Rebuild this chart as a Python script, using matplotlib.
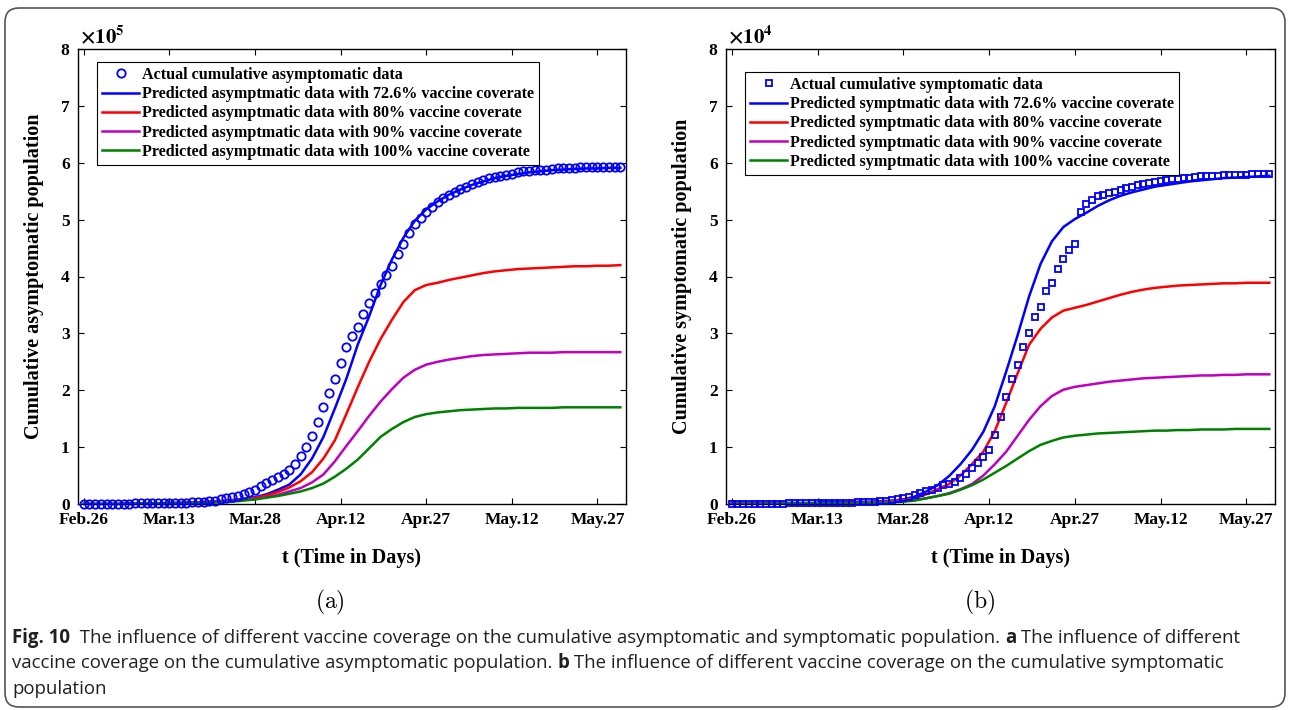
import numpy as np
import matplotlib.pyplot as plt
from matplotlib.patches import FancyBboxPatch
from matplotlib.transforms import IdentityTransform
from matplotlib import font_manager

plt.rcParams['font.family'] = ['Liberation Serif', 'DejaVu Serif']
plt.rcParams['font.weight'] = 'bold'
plt.rcParams['axes.labelweight'] = 'bold'
plt.rcParams['mathtext.fontset'] = 'stix'

# x axis: day 1 = Feb.26
tick_days = [1, 16, 31, 46, 61, 76, 91]
tick_labels = ['Feb.26', 'Mar.13', 'Mar.28', 'Apr.12', 'Apr.27', 'May.12', 'May.27']
data_days = np.arange(1, 96)
line_days = np.arange(1, 96, 2)

# (a) cumulative asymptomatic, units of 1e5
asym_actual = [0.00, 0.00, 0.00, 0.00, 0.00, 0.00, 0.00, 0.00, 0.00, 0.01,
               0.01, 0.01, 0.01, 0.01, 0.01, 0.01, 0.02, 0.02, 0.02, 0.03,
               0.03, 0.04, 0.05, 0.06, 0.08, 0.10, 0.12, 0.14, 0.17, 0.21,
               0.25, 0.31, 0.37, 0.43, 0.48, 0.53, 0.60, 0.70, 0.84, 1.00,
               1.20, 1.45, 1.70, 1.95, 2.20, 2.48, 2.76, 2.95, 3.12, 3.34,
               3.53, 3.71, 3.87, 4.02, 4.19, 4.39, 4.58, 4.76, 4.92, 5.03,
               5.14, 5.22, 5.31, 5.38, 5.44, 5.49, 5.53, 5.58, 5.62, 5.66,
               5.69, 5.73, 5.75, 5.77, 5.79, 5.81, 5.83, 5.85, 5.86, 5.87,
               5.88, 5.88, 5.89, 5.90, 5.90, 5.91, 5.91, 5.92, 5.92, 5.93,
               5.93, 5.93, 5.93, 5.93, 5.92]
asym_726 = [0.00, 0.00, 0.00, 0.00, 0.01, 0.01, 0.01, 0.01, 0.02, 0.02,
            0.03, 0.04, 0.05, 0.07, 0.09, 0.12, 0.17, 0.25, 0.34, 0.52,
            0.80, 1.18, 1.68, 2.20, 2.80, 3.30, 3.85, 4.30, 4.68, 4.98,
            5.18, 5.32, 5.44, 5.53, 5.61, 5.67, 5.73, 5.77, 5.80, 5.83,
            5.85, 5.87, 5.88, 5.89, 5.90, 5.90, 5.91, 5.91]
asym_80 = [0.00, 0.00, 0.00, 0.00, 0.01, 0.01, 0.01, 0.01, 0.02, 0.02,
           0.03, 0.04, 0.05, 0.06, 0.08, 0.11, 0.15, 0.21, 0.29, 0.40,
           0.56, 0.80, 1.12, 1.58, 2.05, 2.50, 2.90, 3.24, 3.55, 3.76,
           3.85, 3.89, 3.94, 3.98, 4.02, 4.06, 4.09, 4.11, 4.13, 4.14,
           4.15, 4.16, 4.17, 4.18, 4.18, 4.19, 4.19, 4.20]
asym_90 = [0.00, 0.00, 0.00, 0.00, 0.01, 0.01, 0.01, 0.01, 0.01, 0.02,
           0.02, 0.03, 0.04, 0.05, 0.07, 0.09, 0.12, 0.16, 0.22, 0.28,
           0.38, 0.52, 0.75, 1.02, 1.28, 1.55, 1.80, 2.02, 2.22, 2.36,
           2.45, 2.50, 2.54, 2.57, 2.60, 2.62, 2.63, 2.64, 2.65, 2.66,
           2.66, 2.66, 2.67, 2.67, 2.67, 2.67, 2.67, 2.67]
asym_100 = [0.00, 0.00, 0.00, 0.00, 0.00, 0.01, 0.01, 0.01, 0.01, 0.01,
            0.02, 0.02, 0.03, 0.04, 0.06, 0.08, 0.11, 0.14, 0.18, 0.22,
            0.28, 0.36, 0.48, 0.62, 0.78, 0.98, 1.18, 1.32, 1.44, 1.53,
            1.58, 1.61, 1.63, 1.65, 1.66, 1.67, 1.68, 1.68, 1.69, 1.69,
            1.69, 1.69, 1.70, 1.70, 1.70, 1.70, 1.70, 1.70]

# (b) cumulative symptomatic, units of 1e4
sym_actual = [0.00, 0.00, 0.00, 0.00, 0.00, 0.00, 0.00, 0.00, 0.00, 0.00,
              0.01, 0.01, 0.01, 0.01, 0.01, 0.01, 0.01, 0.01, 0.01, 0.02,
              0.02, 0.02, 0.03, 0.03, 0.04, 0.04, 0.05, 0.06, 0.07, 0.08,
              0.10, 0.13, 0.16, 0.19, 0.22, 0.25, 0.29, 0.33, 0.36, 0.39,
              0.45, 0.53, 0.63, 0.72, 0.83, 0.95, 1.21, 1.53, 1.89, 2.20,
              2.45, 2.76, 3.01, 3.28, 3.47, 3.74, 3.89, 4.14, 4.30, 4.46,
              4.58, 5.14, 5.27, 5.34, 5.41, 5.44, 5.47, 5.49, 5.52, 5.55,
              5.58, 5.61, 5.63, 5.65, 5.67, 5.68, 5.70, 5.71, 5.72, 5.73,
              5.74, 5.75, 5.76, 5.76, 5.77, 5.77, 5.78, 5.78, 5.79, 5.79,
              5.79, 5.80, 5.80, 5.80, 5.80]
sym_726 = [0.02, 0.02, 0.02, 0.02, 0.02, 0.02, 0.02, 0.02, 0.03, 0.03,
           0.03, 0.04, 0.04, 0.05, 0.06, 0.08, 0.13, 0.22, 0.33, 0.49,
           0.70, 0.95, 1.27, 1.72, 2.33, 2.97, 3.65, 4.22, 4.62, 4.87,
           5.01, 5.12, 5.24, 5.34, 5.42, 5.48, 5.53, 5.58, 5.61, 5.64,
           5.67, 5.69, 5.71, 5.73, 5.74, 5.75, 5.76, 5.77]
sym_80 = [0.01, 0.01, 0.01, 0.01, 0.01, 0.01, 0.01, 0.01, 0.01, 0.01,
          0.02, 0.02, 0.03, 0.04, 0.05, 0.07, 0.10, 0.17, 0.26, 0.35,
          0.50, 0.70, 0.92, 1.28, 1.78, 2.30, 2.80, 3.08, 3.28, 3.40,
          3.45, 3.50, 3.56, 3.62, 3.68, 3.73, 3.77, 3.80, 3.82, 3.84,
          3.85, 3.86, 3.87, 3.88, 3.88, 3.89, 3.89, 3.89]
sym_90 = [0.01, 0.01, 0.01, 0.01, 0.01, 0.01, 0.01, 0.01, 0.01, 0.01,
          0.01, 0.02, 0.02, 0.03, 0.04, 0.05, 0.07, 0.10, 0.14, 0.19,
          0.26, 0.35, 0.50, 0.70, 0.92, 1.20, 1.48, 1.72, 1.90, 2.01,
          2.06, 2.09, 2.12, 2.15, 2.17, 2.19, 2.21, 2.22, 2.23, 2.24,
          2.25, 2.26, 2.26, 2.27, 2.27, 2.28, 2.28, 2.28]
sym_100 = [0.00, 0.00, 0.00, 0.00, 0.00, 0.01, 0.01, 0.01, 0.01, 0.01,
           0.01, 0.01, 0.02, 0.02, 0.03, 0.04, 0.06, 0.10, 0.14, 0.18,
           0.25, 0.33, 0.43, 0.55, 0.67, 0.80, 0.93, 1.04, 1.11, 1.17,
           1.20, 1.22, 1.24, 1.25, 1.26, 1.27, 1.28, 1.29, 1.29, 1.30,
           1.30, 1.31, 1.31, 1.31, 1.32, 1.32, 1.32, 1.32]

coverages = ['72.6%', '80%', '90%', '100%']
line_colors = ['#0000ff', '#ff0000', '#bf00bf', '#008000']

W, H = 1290, 710
fig = plt.figure(figsize=(W / 100, H / 100), dpi=100)
ax1 = fig.add_axes([78 / W, 1 - 504 / H, 548 / W, 455 / H])
ax2 = fig.add_axes([726 / W, 1 - 504 / H, 549 / W, 455 / H])


def panel(ax, actual, preds, marker, ms, kind, word, power, legend_top):
    ax.plot(data_days, actual, marker, ls='none', mfc='none', mec='#0000ff',
            ms=ms, mew=1.3, clip_on=False, zorder=3,
            label=f'Actual cumulative {kind} data')
    for vals, cov, col in zip(preds, coverages, line_colors):
        ax.plot(line_days, vals, color=col, lw=1.8, zorder=2,
                label=f'Predicted {word} data with {cov} vaccine coverate')
    ax.set_xlim(0, 96)
    ax.set_ylim(0, 8)
    ax.set_xticks(tick_days, tick_labels)
    ax.set_yticks(range(9))
    ax.tick_params(direction='in', top=True, right=True, length=4, width=0.8,
                   labelsize=12.5, pad=6)
    for s in ax.spines.values():
        s.set_linewidth(1.0)
    ax.set_xlabel('t (Time in Days)', fontsize=14.5, fontweight='bold', labelpad=14)
    ax.set_ylabel(f'Cumulative {kind} population', fontsize=14.5,
                  fontweight='bold', labelpad=12)
    ax.text(0.004, 1.002, r'$\mathbf{\times 10^{%d}}$' % power, transform=ax.transAxes,
            fontsize=15, ha='left', va='bottom')
    leg = ax.legend(loc='upper left', bbox_to_anchor=(0.035, legend_top),
                    borderaxespad=0, fontsize=11.6, fancybox=False, framealpha=1,
                    edgecolor='black', handlelength=2.3, handletextpad=0.2,
                    labelspacing=0.2, borderpad=0.3, numpoints=1)
    leg.get_frame().set_linewidth(0.8)


panel(ax1, asym_actual, [asym_726, asym_80, asym_90, asym_100], 'o', 6,
      'asymptomatic', 'asymptmatic', 5, 0.971)
panel(ax2, sym_actual, [sym_726, sym_80, sym_90, sym_100], 's', 4.5,
      'symptomatic', 'symptmatic', 4, 0.949)

fig.text(330 / W, 1 - 602 / H, r'$\mathrm{(a)}$', math_fontfamily='cm',
         fontsize=17, ha='center', va='center')
fig.text(980 / W, 1 - 602 / H, r'$\mathrm{(b)}$', math_fontfamily='cm',
         fontsize=17, ha='center', va='center')

# outer rounded frame
fig.add_artist(FancyBboxPatch((5, 3), 1280, 699, boxstyle='round,pad=0,rounding_size=14',
                              transform=IdentityTransform(), fill=False,
                              ec='#555555', lw=1.2))

# caption
names = {f.name for f in font_manager.fontManager.ttflist}
cap_font = 'Liberation Sans Narrow' if 'Liberation Sans Narrow' in names else 'Open Sans'
cap_color = '#231f20'
caption = [
    [('Fig. 10', True), ('  The influence of different vaccine coverage on the cumulative asymptomatic and symptomatic population. ', False),
     ('a', True), (' The influence of different', False)],
    [('vaccine coverage on the cumulative asymptomatic population. ', False), ('b', True),
     (' The influence of different vaccine coverage on the cumulative symptomatic', False)],
    [('population', False)],
]
renderer = fig.canvas.get_renderer()


def place_line(parts, y, size):
    x = 12
    made = []
    for s, bold in parts:
        t = fig.text(x / W, 1 - y / H, s.replace(' ', '\u00a0'), fontsize=size,
                     family=cap_font, fontweight='bold' if bold else 'normal',
                     color=cap_color, va='baseline', ha='left')
        made.append(t)
        x += t.get_window_extent(renderer).width
    return x, made


# size the caption so the first line ends at about x = 1237
end, made = place_line(caption[0], 643, 12)
for t in made:
    t.remove()
cap_size = 12 * (1237 - 12) / (end - 12)
for parts, y in zip(caption, [643, 668, 694]):
    place_line(parts, y, cap_size)

fig.savefig('out.png', dpi=100)
